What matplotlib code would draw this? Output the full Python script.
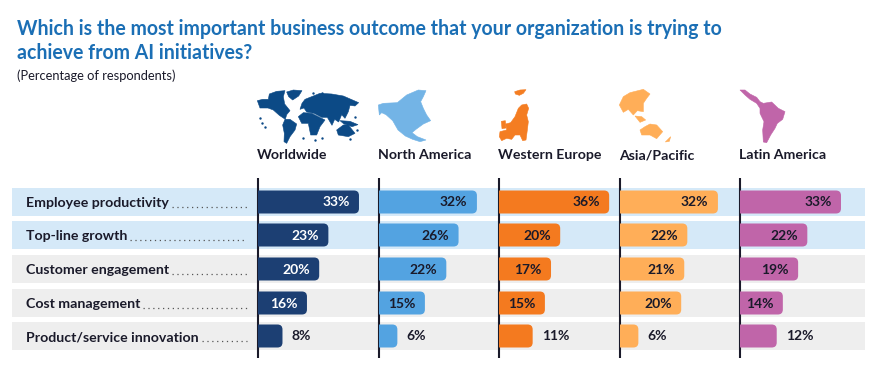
import matplotlib
matplotlib.use("Agg")
import matplotlib.pyplot as plt
from matplotlib.patches import FancyBboxPatch, Polygon

plt.rcParams["font.family"] = ["Lato", "DejaVu Sans"]

W, H = 877, 370

title = "Which is the most important business outcome that your organization is trying to\nachieve from AI initiatives?"
subtitle = "(Percentage of respondents)"

outcomes = ["Employee productivity", "Top-line growth", "Customer engagement",
            "Cost management", "Product/service innovation"]
regions = ["Worldwide", "North America", "Western Europe", "Asia/Pacific", "Latin America"]

worldwide = [33, 23, 20, 16, 8]
north_america = [32, 26, 22, 15, 6]
western_europe = [36, 20, 17, 15, 11]
asia_pacific = [32, 22, 21, 20, 6]
latin_america = [33, 22, 19, 14, 12]
series = [worldwide, north_america, western_europe, asia_pacific, latin_america]

bar_colors = ["#1C3F73", "#53A3E1", "#F47A1F", "#FFAE58", "#C065A9"]
map_colors = ["#0C4A86", "#73B4E6", "#F47D22", "#FFAE58", "#C065A9"]
value_colors = ["white", "#1a1a2a", "#1a1a2a", "#1a1a2a", "#1a1a2a"]
band_colors = ["#D5E9F8", "#D5E9F8", "#EEEEEE", "#EEEEEE", "#EEEEEE"]
text_dark = "#1a1a2a"

# layout, in pixels of the picture
col_left = [258, 379, 499, 620, 740]
col_width = 120
band_top = [188, 221, 255, 289, 322]
band_h = 28
px_per_pct = 3.06

# rough map icons, in zoom-crop units of the reference
icon_world = [
    [(52, 62), (68, 58), (85, 58), (88, 42), (110, 34), (135, 32), (130, 50), (134, 72), (150, 92), (140, 104),
     (136, 118), (118, 106), (100, 90), (84, 84), (60, 84)],
    [(140, 36), (160, 30), (186, 32), (176, 48), (158, 60), (146, 50)],
    [(135, 118), (150, 118), (170, 132), (165, 150), (150, 170), (140, 190), (132, 185), (133, 160), (128, 135)],
    [(195, 58), (215, 50), (240, 40), (275, 42), (310, 48), (356, 68), (345, 78), (330, 76), (325, 95), (315, 115),
     (305, 104), (296, 126), (284, 118), (276, 136), (262, 112), (245, 112), (222, 100), (200, 96), (192, 84),
     (180, 88), (186, 70)],
    [(175, 110), (190, 98), (215, 100), (235, 110), (255, 120), (240, 140), (230, 165), (212, 165), (205, 130),
     (185, 130)],
    [(290, 150), (310, 135), (325, 135), (345, 160), (325, 170), (295, 165)],
    [(300, 122), (330, 124), (354, 134), (336, 140), (312, 132)],
]
icon_na = [
    [(415, 75), (430, 70), (472, 68), (500, 45), (535, 30), (558, 32), (550, 50), (542, 65), (550, 85),
     (560, 105), (572, 122), (550, 132), (528, 148), (516, 158), (532, 170), (558, 180), (540, 185), (518, 178),
     (496, 168), (474, 150), (458, 122), (438, 104), (425, 98), (418, 105)],
]
icon_europe = [
    [(824, 35), (840, 30), (858, 29), (850, 40), (838, 46), (826, 42)],
    [(860, 72), (866, 85), (860, 105), (865, 125), (862, 150), (858, 180), (848, 182), (840, 165), (825, 165),
     (815, 178), (800, 175), (785, 182), (778, 170), (780, 155), (800, 150), (797, 132), (812, 128), (825, 110),
     (835, 85), (845, 75)],
    [(784, 124), (796, 122), (798, 144), (786, 146)],
]
icon_ap = [
    [(58, 75), (70, 50), (90, 38), (130, 28), (150, 42), (140, 55), (130, 70), (130, 95), (112, 92), (100, 105),
     (85, 88), (70, 97)],
    [(105, 108), (125, 110), (137, 120), (120, 127)],
    [(120, 150), (135, 140), (150, 132), (170, 135), (188, 155), (170, 176), (150, 165), (125, 165)],
    [(196, 186), (212, 170), (208, 184)],
]
icon_la = [
    [(420, 30), (435, 30), (450, 42), (470, 52), (480, 65), (490, 70), (515, 66), (535, 85), (555, 95), (548, 118),
     (532, 130), (525, 145), (512, 165), (500, 188), (490, 186), (488, 150), (492, 125), (480, 100), (480, 85),
     (470, 70), (450, 58), (435, 45)],
]
icons = [icon_world, icon_na, icon_europe, icon_ap, icon_la]
icon_origin = [(240, 80), (240, 80), (240, 80), (600, 80), (600, 80)]

# small islands on the world map
world_islands = [(60, 115), (66, 130), (76, 142), (220, 40), (246, 38), (345, 112), (330, 178), (245, 175),
                 (225, 180), (190, 175), (352, 150), (120, 72)]

fig = plt.figure(figsize=(W / 100, H / 100), dpi=100)
bg = fig.add_axes([0, 0, 1, 1])
bg.set_xlim(0, W)
bg.set_ylim(H, 0)
bg.axis("off")

bg.text(17, 41, title, fontsize=14.05, fontweight="bold", color="#1B6FB5", va="center", linespacing=1.2)
bg.text(17, 76, subtitle, fontsize=9.3, color=text_dark, va="center")

# bands, row labels and the dotted leaders
for top, color, name in zip(band_top, band_colors, outcomes):
    bg.fill_between([12, 865], top, top + band_h, color=color, lw=0, zorder=0)
    y = top + 19
    label = bg.text(26, y, name, fontsize=10.2, fontweight="bold", color=text_dark, va="baseline")
    ext = label.get_window_extent(fig.canvas.get_renderer())
    bg.plot([ext.x1 + 3, 247], [y, y], color="#555555", lw=0.9, ls=(0, (1, 2.9)))

# map icons
for shapes, origin, color in zip(icons, icon_origin, map_colors):
    for shape in shapes:
        pts = [(origin[0] + x / 3, origin[1] + y / 3) for x, y in shape]
        bg.add_patch(Polygon(pts, closed=True, fc=color, ec=color, lw=0.4))
bg.scatter([240 + x / 3 for x, y in world_islands], [80 + y / 3 for x, y in world_islands],
           s=3, color=map_colors[0], lw=0)

# one panel per region, x axis in percent, y axis in picture pixels
for i, region in enumerate(regions):
    left = col_left[i]
    ax = fig.add_axes([left / W, 1 - 358 / H, col_width / W, 180 / H])
    ax.patch.set_alpha(0)
    ax.set_xlim(0, col_width / px_per_pct)
    ax.set_ylim(358, 178)
    ax.axis("off")

    for top, v in zip(band_top, series[i]):
        r = 5 / px_per_pct
        ax.add_patch(FancyBboxPatch((-r * 2, top + 2.5), v + r * 2, band_h - 5,
                                    boxstyle=f"round,pad=0,rounding_size={r}",
                                    mutation_aspect=px_per_pct,
                                    fc=bar_colors[i], ec="none", zorder=2))
        y = top + 18.5
        if v >= 14:
            ax.text(v - 3.1, y, f"{v}%", ha="right", va="baseline", fontsize=10,
                    fontweight="bold", color=value_colors[i], zorder=3)
        else:
            ax.text(v + 3.1, y, f"{v}%", ha="left", va="baseline", fontsize=10,
                    fontweight="bold", color=text_dark, zorder=3)

    bg.plot([left, left], [178, 358], color=text_dark, lw=1.5, zorder=5, solid_capstyle="butt")
    bg.text(left - 1, 159, region, fontsize=10.2, fontweight="bold", color=text_dark, va="baseline")

fig.savefig("out.png", dpi=100)
